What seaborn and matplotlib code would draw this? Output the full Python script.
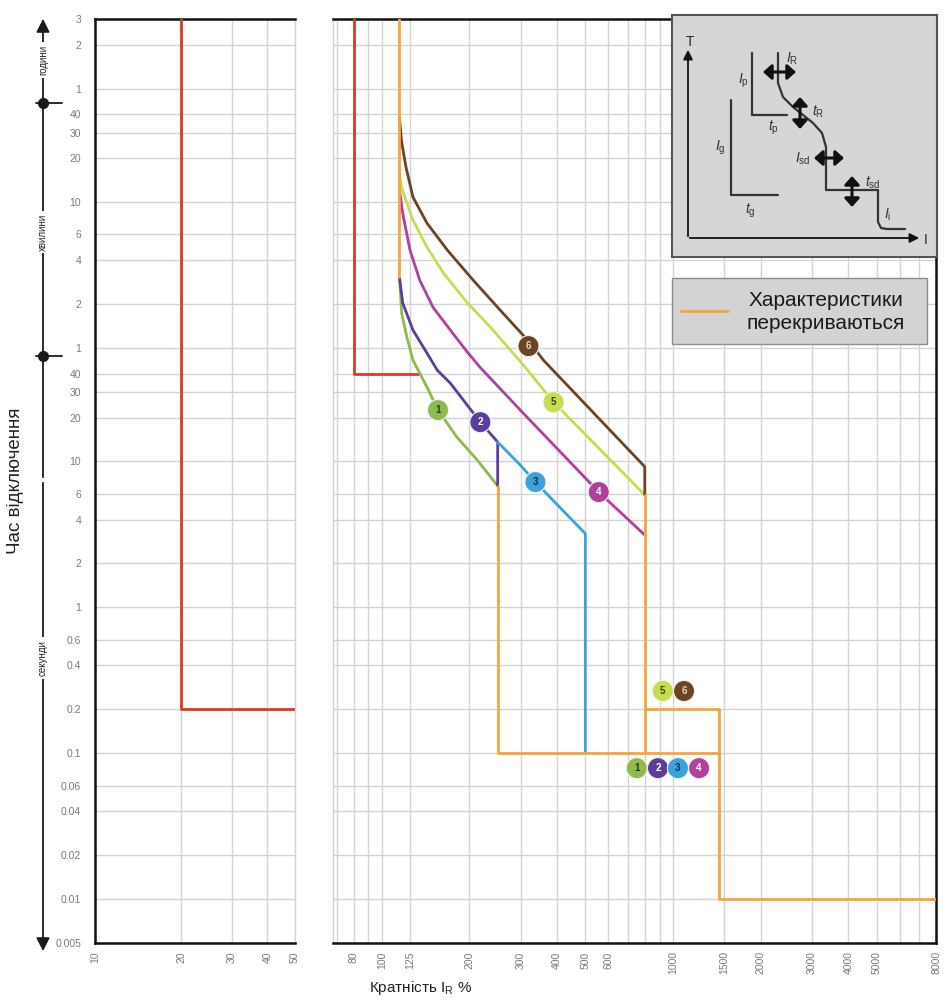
import seaborn as sns
import matplotlib.pyplot as plt
from matplotlib.patches import Rectangle

# ---------------- data (x = multiple of I_R in %, t = trip time in seconds) ----------------
y_ticks = [0.005, 0.01, 0.02, 0.04, 0.06, 0.1, 0.2, 0.4, 0.6, 1, 2, 4, 6, 10, 20, 30, 40,
           60, 120, 240, 360, 600, 1200, 1800, 2400, 3600, 7200, 10800]
y_labels = ["0.005", "0.01", "0.02", "0.04", "0.06", "0.1", "0.2", "0.4", "0.6", "1", "2", "4", "6",
            "10", "20", "30", "40", "1", "2", "4", "6", "10", "20", "30", "40", "1", "2", "3"]

x_ticks_left = [10, 20, 30, 40, 50]
x_grid_right = [70, 80, 90, 100, 125, 200, 300, 400, 500, 600, 700, 800, 900, 1000,
                1500, 2000, 3000, 4000, 5000, 6000, 7000, 8000]
x_labels_right = {80: "80", 100: "100", 125: "125", 200: "200", 300: "300", 400: "400",
                  500: "500", 600: "600", 1000: "1000", 1500: "1500", 2000: "2000",
                  3000: "3000", 4000: "4000", 5000: "5000", 8000: "8000"}

red_left_x = [20, 20, 50]
red_left_t = [10800, 0.2, 0.2]
red_right_x = [80, 80, 133]
red_right_t = [10800, 40, 40]

c1_x = [115, 117, 122, 128, 143, 156, 181, 213, 250]
c1_t = [184, 104, 71, 49.5, 32.3, 22.5, 14.7, 10.2, 6.8]
c2_x = [115, 118, 128, 143, 155, 172, 218, 250, 250]
c2_t = [184, 122, 79.5, 55.3, 42.3, 34.4, 18.6, 13.6, 6.8]
c3_x = [250, 299, 337, 500, 500]
c3_t = [13.6, 9.45, 7.22, 3.2, 0.1]
c4_x = [115, 118, 125, 135, 150, 172, 197, 218, 299, 556, 800]
c4_t = [725, 504, 281, 175, 114, 79.5, 56, 44, 22.5, 6.17, 3.13]
c5_x = [115, 117, 120, 128, 143, 163, 197, 236, 306, 389, 800]
c5_t = [918, 760, 648, 451, 295, 195, 122, 83.4, 46, 25.5, 5.9]
c6_x = [115, 117, 121, 128, 143, 168, 206, 255, 324, 359, 800, 800]
c6_t = [2257, 1550, 1050, 648, 430, 281, 175, 109, 64.7, 49.5, 9.2, 5.9]

# overlapping parts (drawn orange)
ov_a_x, ov_a_t = [115, 115], [10800, 184]
ov_b_x, ov_b_t = [250, 250, 1440], [6.8, 0.1, 0.1]
ov_c_x, ov_c_t = [800, 800], [5.9, 0.1]
ov_d_x, ov_d_t = [800, 1440, 1440, 8000], [0.2, 0.2, 0.01, 0.01]

# numbered badges
badge_num = [1, 2, 3, 4, 5, 6, 1, 2, 3, 4, 5, 6]
badge_x = [156, 218, 337, 556, 389, 319, 751, 888, 1040, 1229, 923, 1091]
badge_t = [22.5, 18.6, 7.22, 6.17, 25.5, 61.8, 0.079, 0.079, 0.079, 0.079, 0.267, 0.267]

colors = {1: "#8dbb4c", 2: "#5b3d9e", 3: "#3aa3dc", 4: "#b0409c", 5: "#c9dc4f", 6: "#6b4425"}
text_col = {1: "#2a3a10", 2: "white", 3: "#0d2d4a", 4: "white", 5: "#3a4010", 6: "#e8d8c8"}
RED = "#d93a2b"
ORANGE = "#f5a53a"
GRID = "#d4d4d4"

# inset schematic (box-local pixel units)
sch_main_x = [106, 106, 111, 121, 131, 141, 150, 154, 154, 206, 206, 209, 215, 233]
sch_main_y = [38, 68, 82, 92, 100, 108, 118, 132, 175, 175, 207, 213, 214, 214]
sch_p_x, sch_p_y = [80, 80, 115], [38, 100, 100]
sch_g_x, sch_g_y = [59, 59, 106], [85, 180, 180]

# ---------------- figure ----------------
sns.set_theme(style="white")
plt.rcParams["font.family"] = ["Liberation Sans", "DejaVu Sans"]
plt.rcParams["mathtext.fontset"] = "custom"
plt.rcParams["mathtext.rm"] = "Liberation Sans"
plt.rcParams["mathtext.it"] = "Liberation Sans:italic"

W, H = 953, 1001
fig = plt.figure(figsize=(W / 100, H / 100), dpi=100)


def box(x0, x1, y0, y1):
    return [x0 / W, 1 - y1 / H, (x1 - x0) / W, (y1 - y0) / H]


ax_l = fig.add_axes(box(95, 295, 19, 943))
ax_r = fig.add_axes(box(333, 936, 19, 943))

for ax in (ax_l, ax_r):
    ax.set_xscale("log")
    ax.set_yscale("log")
    ax.set_ylim(0.005, 10800)
    ax.set_yticks(y_ticks)
    ax.set_yticklabels(y_labels)
    ax.minorticks_off()
    ax.grid(True, which="major", color=GRID, lw=1)
    ax.tick_params(length=0, labelsize=7.5, labelcolor="#7a7a7a")
    ax.tick_params(axis="x", labelrotation=90, pad=6)
    for s in ax.spines.values():
        s.set_color("#111111")
        s.set_linewidth(1.8)

ax_l.set_xlim(10, 50)
ax_l.set_xticks(x_ticks_left)
ax_l.set_xticklabels([str(v) for v in x_ticks_left])
ax_l.minorticks_off()
ax_l.tick_params(axis="y", pad=10)
ax_l.spines["right"].set_color(GRID)
ax_l.spines["right"].set_linewidth(1)

ax_r.set_xlim(68, 8000)
ax_r.set_xticks(x_grid_right)
ax_r.set_xticklabels([x_labels_right.get(v, "") for v in x_grid_right])
ax_r.minorticks_off()
ax_r.tick_params(axis="y", labelleft=False)
ax_r.spines["left"].set_color(GRID)
ax_r.spines["left"].set_linewidth(1)

ax_l.set_ylabel("Час відключення", fontsize=13.5, color="#222222")
ax_l.yaxis.set_label_coords(-0.355, 0.5)
ax_r.set_xlabel(r"Кратність I$_{\mathregular{R}}$ %", fontsize=11, color="#222222")
ax_r.xaxis.set_label_coords(0.145, -0.039)


def line(ax, xs, ts, color, lw=2.0, z=3):
    sns.lineplot(x=xs, y=ts, ax=ax, color=color, linewidth=lw, sort=False,
                 estimator=None, zorder=z, legend=False)


line(ax_l, red_left_x, red_left_t, RED)
line(ax_r, red_right_x, red_right_t, RED)
for xs, ts, k in [(c1_x, c1_t, 1), (c2_x, c2_t, 2), (c3_x, c3_t, 3),
                  (c4_x, c4_t, 4), (c5_x, c5_t, 5), (c6_x, c6_t, 6)]:
    line(ax_r, xs, ts, colors[k])
for xs, ts in [(ov_a_x, ov_a_t), (ov_b_x, ov_b_t), (ov_c_x, ov_c_t), (ov_d_x, ov_d_t)]:
    line(ax_r, xs, ts, ORANGE, z=4)

sns.scatterplot(x=badge_x, y=badge_t, hue=badge_num, palette=colors, s=230, ax=ax_r,
                edgecolor="#f2f2f2", linewidth=0.8, legend=False, zorder=6)
for n, x, t in zip(badge_num, badge_x, badge_t):
    ax_r.text(x, t, str(n), ha="center", va="center", fontsize=7, weight="bold",
              color=text_col[n], zorder=7)

# ---------------- overlay: side time scale + legend ----------------
ov = fig.add_axes([0, 0, 1, 1])
ov.set_xlim(0, W)
ov.set_ylim(H, 0)
ov.axis("off")

arrow = dict(arrowstyle="-|>", color="#1a1a1a", lw=1.3, mutation_scale=20)
ov.annotate("", xy=(43, 16), xytext=(43, 480), arrowprops=arrow)
ov.annotate("", xy=(43, 954), xytext=(43, 480), arrowprops=arrow)
for yy in (103, 356):
    ov.plot([36, 62], [yy, yy], color="#1a1a1a", lw=1.3)
    ov.plot([43], [yy], "o", ms=7, color="#1a1a1a")
for txt, yy in [("години", 60), ("хвилини", 232), ("секунди", 658)]:
    ov.text(43, yy, txt, rotation=90, ha="center", va="center", fontsize=7, color="#222222",
            bbox=dict(fc="white", ec="none", pad=2))

ov.add_patch(Rectangle((672, 278), 255, 66, fc="#d3d3d3", ec="#8c8c8c", lw=1))
ov.plot([681, 728], [311, 311], color=ORANGE, lw=2)
ov.text(826, 312, "Характеристики\nперекриваються", ha="center", va="center",
        fontsize=15, color="#1a1a1a", linespacing=1.25)

# ---------------- inset schematic ----------------
ins = fig.add_axes(box(672, 937, 15, 257))
ins.set_xlim(0, 265)
ins.set_ylim(242, 0)
ins.set_facecolor("#d6d6d6")
ins.set_xticks([])
ins.set_yticks([])
for s in ins.spines.values():
    s.set_color("#555555")
    s.set_linewidth(1.5)

ax_arrow = dict(arrowstyle="-|>", color="#111111", lw=1.3, mutation_scale=14)
ins.annotate("", xy=(16, 32), xytext=(16, 224), arrowprops=ax_arrow)
ins.annotate("", xy=(250, 223), xytext=(15, 223), arrowprops=ax_arrow)
ins.text(18, 27, "T", fontsize=10, ha="center", va="center")
ins.text(254, 225, "I", fontsize=10, ha="center", va="center")

ins.plot(sch_main_x, sch_main_y, color="#333333", lw=1.6)
ins.plot(sch_p_x, sch_p_y, color="#333333", lw=1.6)
ins.plot(sch_g_x, sch_g_y, color="#333333", lw=1.6)

dbl = dict(arrowstyle="<|-|>,head_length=0.5,head_width=0.45", color="#111111", lw=2.2,
           mutation_scale=10, shrinkA=0, shrinkB=0)
ins.annotate("", xy=(91, 57), xytext=(124, 57), arrowprops=dbl)
ins.annotate("", xy=(128, 82), xytext=(128, 114), arrowprops=dbl)
ins.annotate("", xy=(142, 143), xytext=(172, 143), arrowprops=dbl)
ins.annotate("", xy=(180, 161), xytext=(180, 192), arrowprops=dbl)

lab = dict(fontsize=10, color="#333333", ha="center", va="center")
ins.text(120, 44, r"$I_\mathrm{R}$", **lab)
ins.text(146, 97, r"$t_\mathrm{R}$", **lab)
ins.text(131, 144, r"$I_\mathrm{sd}$", **lab)
ins.text(201, 168, r"$t_\mathrm{sd}$", **lab)
ins.text(216, 200, r"$I_\mathrm{i}$", **lab)
ins.text(71, 66, r"$I_\mathrm{p}$", **lab)
ins.text(101, 113, r"$t_\mathrm{p}$", **lab)
ins.text(48, 133, r"$I_\mathrm{g}$", **lab)
ins.text(78, 196, r"$t_\mathrm{g}$", **lab)

fig.savefig("out.png", dpi=100)
